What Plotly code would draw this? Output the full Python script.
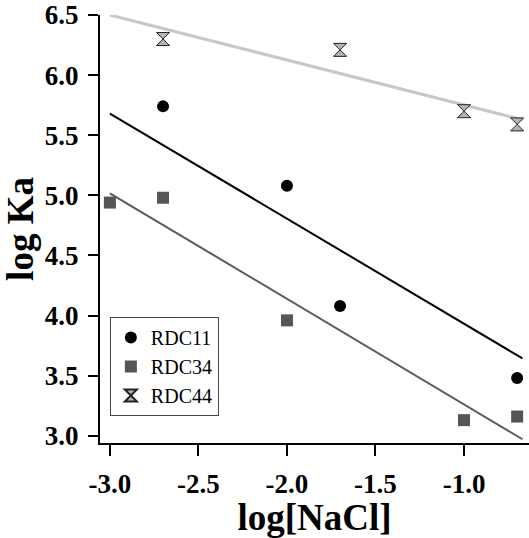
import plotly.graph_objects as go

# Binding constants vs. salt concentration
x_rdc11 = [-2.7, -2.0, -1.7, -0.7]
y_rdc11 = [5.74, 5.08, 4.08, 3.48]

x_rdc34 = [-3.0, -2.7, -2.0, -1.0, -0.7]
y_rdc34 = [4.94, 4.98, 3.96, 3.13, 3.16]

x_rdc44 = [-2.7, -1.7, -1.0, -0.7]
y_rdc44 = [6.30, 6.21, 5.70, 5.59]

# Straight-line fits: log Ka = intercept + slope * log[NaCl]
fit_names = ["RDC11", "RDC34", "RDC44"]
fit_slopes = [-0.874, -0.878, -0.374]
fit_intercepts = [3.058, 2.383, 5.378]
fit_x_span = [-3.0, -0.67]

x_tick_vals = [-3.0, -2.5, -2.0, -1.5, -1.0]
x_tick_text = ["-3.0", "-2.5", "-2.0", "-1.5", "-1.0"]
y_tick_vals = [3.0, 3.5, 4.0, 4.5, 5.0, 5.5, 6.0, 6.5]
y_tick_text = ["3.0", "3.5", "4.0", "4.5", "5.0", "5.5", "6.0", "6.5"]

serif = "Liberation Serif, Times New Roman, serif"
line_styles = {
    "RDC11": dict(color="#000000", width=2),
    "RDC34": dict(color="#5a5a5a", width=2),
    "RDC44": dict(color="#c8c8c8", width=3),
}

fig = go.Figure()

for name, m, b in zip(fit_names, fit_slopes, fit_intercepts):
    fig.add_trace(go.Scatter(
        x=fit_x_span, y=[b + m * v for v in fit_x_span],
        mode="lines", line=line_styles[name], showlegend=False,
        hoverinfo="skip", cliponaxis=False,
    ))

fig.add_trace(go.Scatter(
    x=x_rdc11, y=y_rdc11, mode="markers", name="RDC11",
    marker=dict(symbol="circle", size=12, color="#000000"),
    cliponaxis=False,
))
fig.add_trace(go.Scatter(
    x=x_rdc34, y=y_rdc34, mode="markers", name="RDC34",
    marker=dict(symbol="square", size=12, color="#555555"),
    cliponaxis=False,
))
fig.add_trace(go.Scatter(
    x=x_rdc44, y=y_rdc44, mode="markers", name="RDC44",
    marker=dict(symbol="hourglass", size=13, color="#b4b4b4",
                line=dict(color="#222222", width=1)),
    cliponaxis=False,
))

fig.update_layout(
    width=529, height=538,
    margin=dict(l=100, r=0, t=15, b=95),
    paper_bgcolor="white", plot_bgcolor="white",
    font=dict(family=serif, color="black"),
    legend=dict(
        x=0.023, y=0.063, xanchor="left", yanchor="bottom",
        bgcolor="white", bordercolor="#444444", borderwidth=1,
        font=dict(family=serif, size=20, color="black"),
        tracegroupgap=0, itemsizing="constant",
    ),
    xaxis=dict(
        range=[-3.056, -0.633], showgrid=False, zeroline=False,
        showline=True, linecolor="black", linewidth=2,
        ticks="outside", ticklen=11, tickwidth=2, tickcolor="black",
        tickvals=x_tick_vals, ticktext=x_tick_text,
        tickfont=dict(family=serif, size=27, weight="bold"),
        ticklabelstandoff=5,
        title=dict(text="log[NaCl]", standoff=2,
                   font=dict(family=serif, size=37, weight="bold")),
    ),
    yaxis=dict(
        range=[2.94, 6.5], showgrid=False, zeroline=False,
        showline=True, linecolor="black", linewidth=2,
        ticks="outside", ticklen=10, tickwidth=2, tickcolor="black",
        tickvals=y_tick_vals, ticktext=y_tick_text,
        tickfont=dict(family=serif, size=27, weight="bold"),
        ticklabelstandoff=4,
        title=dict(text="log Ka", standoff=2,
                   font=dict(family=serif, size=37, weight="bold")),
    ),
)

fig.write_html("out.html")
